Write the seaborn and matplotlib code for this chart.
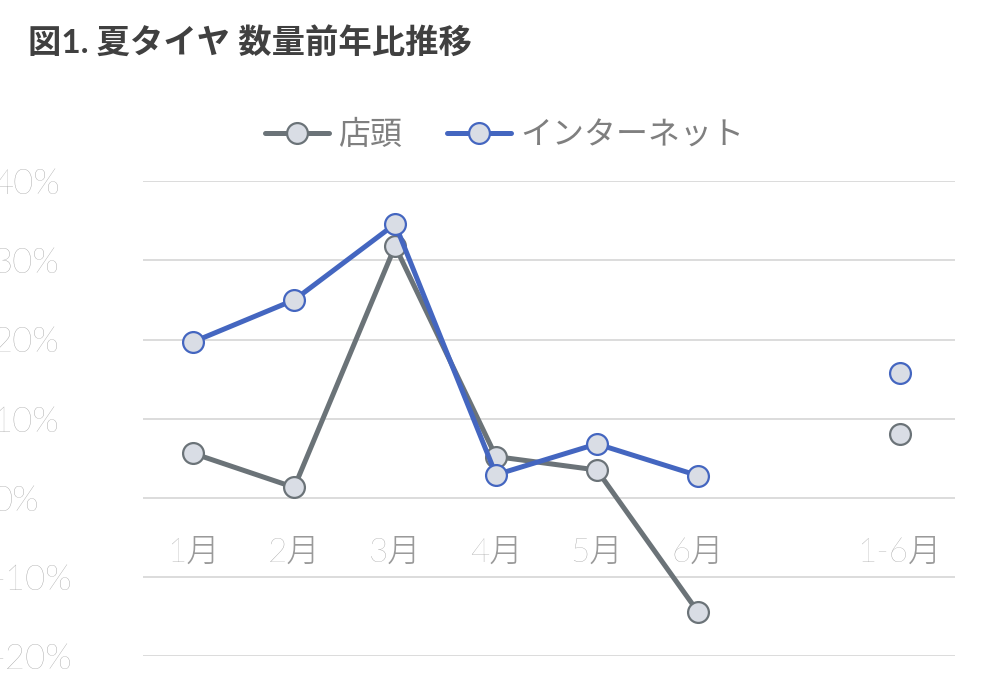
import matplotlib
matplotlib.use("Agg")
import matplotlib.pyplot as plt
from matplotlib.ticker import FuncFormatter
from matplotlib.lines import Line2D
import seaborn as sns
import pandas as pd

months = ["1月", "2月", "3月", "4月", "5月", "6月"]
total_label = "1-6月"
store = [0.056, 0.013, 0.318, 0.052, 0.035, -0.144]
net = [0.197, 0.250, 0.346, 0.029, 0.068, 0.028]
store_total = 0.080
net_total = 0.158
series_names = ["店頭", "インターネット"]

GRAY = "#6b7378"
BLUE = "#4466c0"
FACE = "#d9dde5"
TXT = "#9a9a9a"

sns.set_style("white")
plt.rcParams["font.family"] = ["Lato", "Noto Sans CJK JP", "DejaVu Sans"]

fig = plt.figure(figsize=(9.99, 7.0), dpi=100)
ax = fig.add_axes([0.143, 0.063, 0.813, 0.678])

pos = list(range(len(months)))
df = pd.DataFrame({"x": pos * 2, "y": store + net,
                   "s": [series_names[0]] * 6 + [series_names[1]] * 6})
palette = {series_names[0]: GRAY, series_names[1]: BLUE}
sns.lineplot(data=df, x="x", y="y", hue="s", palette=palette, lw=3.6,
             marker="o", markersize=15, markerfacecolor=FACE,
             markeredgewidth=1.6, ax=ax, legend=False)
for line, c in zip(ax.lines, [GRAY, BLUE]):
    line.set_markeredgecolor(c)
tdf = pd.DataFrame({"x": [7, 7], "y": [store_total, net_total], "s": series_names})
for name, c in palette.items():
    sub = tdf[tdf.s == name]
    ax.plot(sub.x, sub.y, "o", ms=15, mfc=FACE, mec=c, mew=1.6, zorder=3)

ax.set_xlim(-0.5, 7.55)
ax.set_ylim(-0.2, 0.4)
ax.set_yticks([-0.2, -0.1, 0, 0.1, 0.2, 0.3, 0.4])
ax.yaxis.set_major_formatter(FuncFormatter(lambda v, _: f"{v*100:.0f}%"))
ax.tick_params(axis="y", labelsize=25, labelcolor=TXT, length=0, pad=108)
ax.set_xticks([])
ax.set_xlabel("")
ax.set_ylabel("")
ax.grid(axis="y", color="#d9d9d9", lw=1.3)
ax.set_axisbelow(True)
for sp in ax.spines.values():
    sp.set_visible(False)
for lab in ax.get_yticklabels():
    lab.set_horizontalalignment("left")
    lab.set_fontweight("light")

for i, m in enumerate(months + [total_label]):
    x = i if i < 6 else 7
    ax.text(x, -0.07, m, ha="center", va="center", fontsize=24, color=TXT,
            fontweight="light")

handles = [Line2D([], [], color=c, lw=3.6, marker="o", ms=15, mfc=FACE, mec=c, mew=1.6)
           for c in [GRAY, BLUE]]
fig.legend(handles, series_names, loc="center", bbox_to_anchor=(0.505, 0.807),
           ncol=2, frameon=False, fontsize=23, labelcolor="#7f7f7f",
           handlelength=2.0, handletextpad=0.3, columnspacing=1.4)

fig.text(0.028, 0.94, "図1. 夏タイヤ 数量前年比推移", fontsize=24, fontweight="bold",
         color="#404040", va="center")

fig.savefig("out.png", dpi=100)
